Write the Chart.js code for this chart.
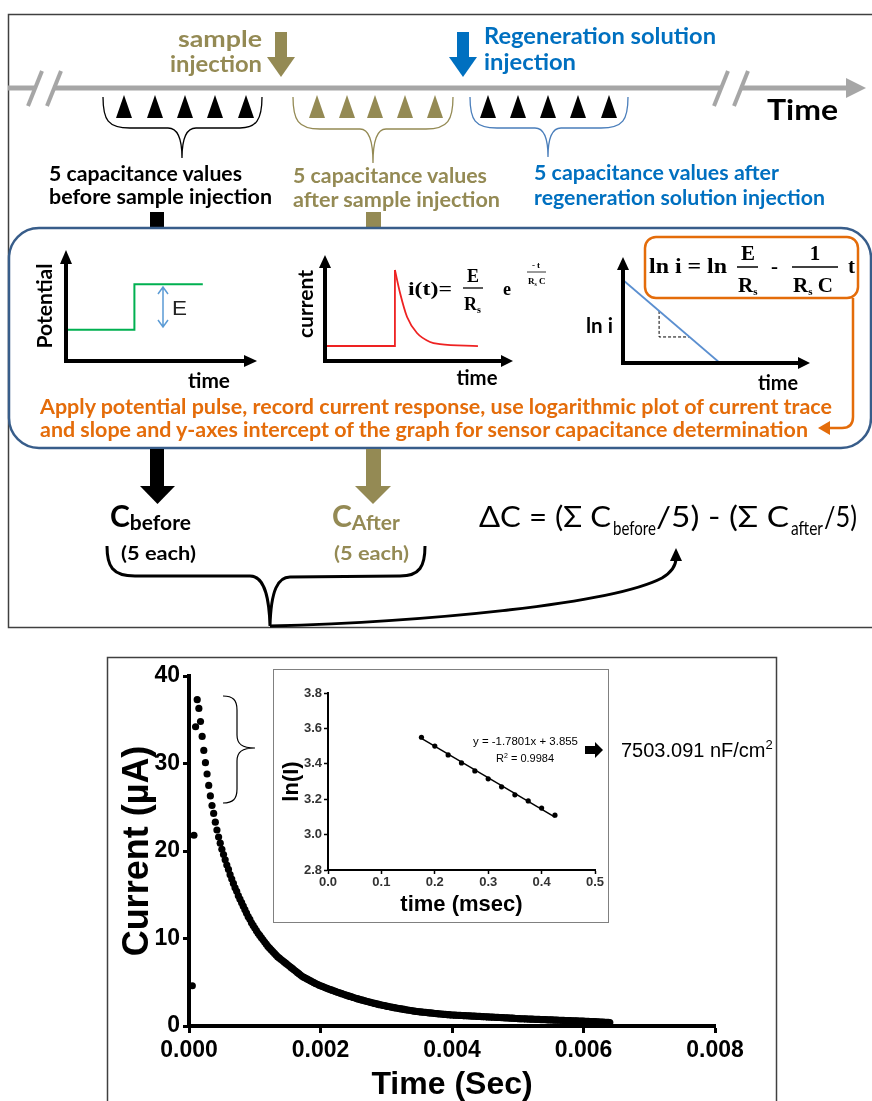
<!DOCTYPE html>
<html>
<head>
<meta charset="utf-8">
<title>Capacitance measurement scheme</title>
<script src="https://cdn.jsdelivr.net/npm/chart.js@4"></script>
<style>
  html, body { margin: 0; padding: 0; background: #fff; }
  #page { position: relative; width: 872px; height: 1101px; overflow: hidden; background: #fff; }
  canvas { position: absolute; }
  #insetBox { position: absolute; left: 273px; top: 669px; width: 334px; height: 252px; border: 1px solid #808080; background: #fff; }
  #insetBox canvas { left: 0; top: 0; }
  #art { position: absolute; left: 0; top: 0; pointer-events: none; }
</style>
</head>
<body>
<div id="page">
  <canvas id="mainChart" width="670" height="444" style="left:107px; top:657px;"></canvas>
  <div id="insetBox"><canvas id="insetChart" width="334" height="252"></canvas></div>
  <canvas id="potChart" width="190" height="108" style="left:66px; top:253px;"></canvas>
  <canvas id="curChart" width="190" height="104" style="left:325px; top:257px;"></canvas>
  <canvas id="lnChart" width="190" height="105" style="left:623px; top:258px;"></canvas>

  <svg id="art" width="872" height="1101" viewBox="0 0 872 1101">
    <!-- frames -->
    <rect x="8.5" y="14.5" width="880" height="613" fill="none" stroke="#404040" stroke-width="1.5"/>
    <rect x="107.5" y="657.5" width="669" height="470" fill="none" stroke="#404040" stroke-width="1.5"/>

    <!-- time line -->
    <g stroke="#a6a6a6" stroke-width="5">
      <line x1="8" y1="88" x2="34" y2="88"/>
      <line x1="53" y1="88" x2="722" y2="88"/>
      <line x1="740" y1="88" x2="850" y2="88"/>
    </g>
    <polygon points="846,78 866,88 846,98" fill="#a6a6a6"/>
    <g stroke="#a6a6a6" stroke-width="4">
      <line x1="28" y1="106" x2="42" y2="71"/>
      <line x1="47" y1="106" x2="61" y2="71"/>
      <line x1="714" y1="106" x2="728" y2="71"/>
      <line x1="734" y1="106" x2="748" y2="71"/>
    </g>

    <!-- injection arrows -->
    <rect x="275" y="32" width="12" height="27" fill="#948a54"/>
    <polygon points="267,57 295,57 281,77" fill="#948a54"/>
    <rect x="457" y="32" width="12" height="27" fill="#0070c0"/>
    <polygon points="449,57 477,57 463,77" fill="#0070c0"/>

    <!-- measurement markers -->
    <g fill="#000">
      <polygon points="116,118 124,95 132,118"/><polygon points="147,118 155,95 163,118"/>
      <polygon points="177,118 185,95 193,118"/><polygon points="207,118 215,95 223,118"/>
      <polygon points="238,118 246,95 254,118"/>
    </g>
    <g fill="#948a54">
      <polygon points="309,118 317,95 325,118"/><polygon points="339,118 347,95 355,118"/>
      <polygon points="367,118 375,95 383,118"/><polygon points="397,118 405,95 413,118"/>
      <polygon points="427,118 435,95 443,118"/>
    </g>
    <g fill="#000">
      <polygon points="480,118 488,95 496,118"/><polygon points="510,118 518,95 526,118"/>
      <polygon points="540,118 548,95 556,118"/><polygon points="570,118 578,95 586,118"/>
      <polygon points="601,118 609,95 617,118"/>
    </g>

    <!-- braces -->
    <g fill="none" stroke-width="1.3">
      <path stroke="#000" d="M103,97 C103,120 108,128 130,128 L168,128 C178,128 182,138 182,158 C182,138 186,128 196,128 L240,128 C256,128 262,120 262,97"/>
      <path stroke="#948a54" d="M293,97 C293,120 298,129 320,129 L360,129 C369,129 373,140 373,163 C373,140 377,129 386,129 L426,129 C448,129 453,120 453,97"/>
      <path stroke="#4a7ebb" d="M470,97 C470,120 475,128 497,128 L535,128 C544,128 548,138 548,157 C548,138 552,128 561,128 L601,128 C623,128 628,120 628,97"/>
    </g>

    <g font-family="Lato, 'Open Sans', sans-serif" font-weight="700">
      <text x="178" y="47" font-size="23" fill="#948a54" textLength="84" lengthAdjust="spacingAndGlyphs">sample</text>
      <text x="170" y="72" font-size="23" fill="#948a54" textLength="92" lengthAdjust="spacingAndGlyphs">injection</text>
      <text x="484" y="44" font-size="23" fill="#0070c0" textLength="232" lengthAdjust="spacingAndGlyphs">Regeneration solution</text>
      <text x="484" y="70" font-size="23" fill="#0070c0" textLength="92" lengthAdjust="spacingAndGlyphs">injection</text>
      <text x="767" y="120" font-size="29" fill="#000" textLength="71" lengthAdjust="spacingAndGlyphs">Time</text>

      <text x="49" y="181" font-size="20" fill="#000" textLength="193" lengthAdjust="spacingAndGlyphs">5 capacitance values</text>
      <text x="49" y="204" font-size="20" fill="#000" textLength="223" lengthAdjust="spacingAndGlyphs">before sample injection</text>
      <text x="293" y="183" font-size="20" fill="#948a54" textLength="194" lengthAdjust="spacingAndGlyphs">5 capacitance values</text>
      <text x="293" y="207" font-size="20" fill="#948a54" textLength="207" lengthAdjust="spacingAndGlyphs">after sample injection</text>
      <text x="534" y="180" font-size="20" fill="#0070c0" textLength="245" lengthAdjust="spacingAndGlyphs">5 capacitance values after</text>
      <text x="534" y="205" font-size="20" fill="#0070c0" textLength="291" lengthAdjust="spacingAndGlyphs">regeneration solution injection</text>
    </g>

    <rect x="150" y="212" width="14" height="17" fill="#000"/>
    <rect x="366" y="212" width="15" height="17" fill="#948a54"/>

    <!-- method box -->
    <rect x="9" y="228" width="862" height="220" rx="30" fill="none" stroke="#385d8a" stroke-width="2.5"/>

    <!-- mini axes -->
    <g stroke="#000" stroke-width="4" fill="none">
      <path d="M66,363 V262 M64,361 H246"/>
      <path d="M325,363 V266 M323,361 H503"/>
      <path d="M623,365 V268 M621,363 H800"/>
    </g>
    <g fill="#000">
      <polygon points="60,264 72,264 66,250"/><polygon points="244,355 244,367 257,361"/>
      <polygon points="319,268 331,268 325,255"/><polygon points="501,355 501,367 513,361"/>
      <polygon points="617,270 629,270 623,257"/><polygon points="798,357 798,369 810,363"/>
    </g>
    <g stroke="#5b9bd5" stroke-width="1.5" fill="none">
      <path d="M163,288 V326 M158,294 L163,287 L168,294 M158,320 L163,327 L168,320"/>
    </g>
    <text x="172" y="315" font-family="Arial, 'Liberation Sans', sans-serif" font-size="21" fill="#222" textLength="15" lengthAdjust="spacingAndGlyphs">E</text>

    <g font-family="Lato, 'Open Sans', sans-serif" font-weight="700" fill="#000">
      <text transform="translate(52,306) rotate(-90)" text-anchor="middle" font-size="21" textLength="85" lengthAdjust="spacingAndGlyphs">Potential</text>
      <text x="209" y="388" text-anchor="middle" font-size="20" textLength="42" lengthAdjust="spacingAndGlyphs">time</text>
      <text transform="translate(313,304) rotate(-90)" text-anchor="middle" font-size="21" textLength="68" lengthAdjust="spacingAndGlyphs">current</text>
      <text x="477" y="385" text-anchor="middle" font-size="20" textLength="41" lengthAdjust="spacingAndGlyphs">time</text>
      <text x="586" y="333" font-size="20" textLength="27" lengthAdjust="spacingAndGlyphs">ln i</text>
      <text x="778" y="390" text-anchor="middle" font-size="20" textLength="40" lengthAdjust="spacingAndGlyphs">time</text>
    </g>

    <!-- i(t) formula -->
    <g font-family="'Liberation Serif', 'Times New Roman', serif" font-weight="700" fill="#000">
      <text x="408" y="295" font-size="19" textLength="44" lengthAdjust="spacingAndGlyphs">i(t)=</text>
      <text x="473" y="282" font-size="18" text-anchor="middle">E</text>
      <text x="464" y="310" font-size="18">R<tspan font-size="10" dy="3">s</tspan></text>
      <text x="503" y="295" font-size="18">e</text>
      <text x="536" y="268" font-size="9" text-anchor="middle">- t</text>
      <text x="528" y="284" font-size="9">R<tspan font-size="6" dy="2">s</tspan><tspan dy="-2"> C</tspan></text>
    </g>
    <line x1="463" y1="288" x2="483" y2="288" stroke="#000" stroke-width="1.3"/>
    <line x1="527" y1="272" x2="546" y2="272" stroke="#000" stroke-width="0.8"/>

    <!-- ln i formula box -->
    <rect x="645" y="237" width="213" height="61" rx="11" fill="#fff" stroke="#e46c0a" stroke-width="2.5"/>
    <g font-family="'Liberation Serif', 'Times New Roman', serif" font-weight="700" fill="#000">
      <text x="649" y="273" font-size="21" textLength="78" lengthAdjust="spacingAndGlyphs">ln i = ln</text>
      <text x="748" y="260" font-size="21" text-anchor="middle">E</text>
      <text x="738" y="292" font-size="21">R<tspan font-size="11" dy="3">s</tspan></text>
      <text x="771" y="273" font-size="21">-</text>
      <text x="815" y="260" font-size="21" text-anchor="middle">1</text>
      <text x="793" y="292" font-size="21">R<tspan font-size="11" dy="3">s</tspan><tspan dy="-3"> C</tspan></text>
      <text x="848" y="273" font-size="21">t</text>
    </g>
    <line x1="737" y1="267" x2="758" y2="267" stroke="#000" stroke-width="1.5"/>
    <line x1="792" y1="267" x2="838" y2="267" stroke="#000" stroke-width="1.5"/>
    <path d="M853,298 V417 Q853,428 842,428 H829" fill="none" stroke="#e46c0a" stroke-width="2.5"/>
    <polygon points="818,428 830,421 830,435" fill="#e46c0a"/>

    <g font-family="Lato, 'Open Sans', sans-serif" font-weight="700" fill="#e46c0a" font-size="20">
      <text x="40" y="414" textLength="792" lengthAdjust="spacingAndGlyphs">Apply potential pulse, record current response, use logarithmic plot of current trace</text>
      <text x="40" y="437" textLength="768" lengthAdjust="spacingAndGlyphs">and slope and y-axes intercept of the graph for sensor capacitance determination</text>
    </g>

    <!-- result arrows -->
    <rect x="150" y="449" width="14" height="39" fill="#000"/>
    <polygon points="140,486 175,486 157.5,504" fill="#000"/>
    <rect x="366" y="449" width="15" height="39" fill="#948a54"/>
    <polygon points="355,486 391,486 373,504" fill="#948a54"/>

    <g font-family="Lato, 'Open Sans', sans-serif" font-weight="700">
      <text x="110" y="527" font-size="30" fill="#000">C<tspan font-size="21" dy="3">before</tspan></text>
      <text x="121" y="560" font-size="19" fill="#000" textLength="75" lengthAdjust="spacingAndGlyphs">(5 each)</text>
      <text x="332" y="527" font-size="30" fill="#948a54">C<tspan font-size="21" dy="3">After</tspan></text>
      <text x="334" y="560" font-size="19" fill="#948a54" textLength="75" lengthAdjust="spacingAndGlyphs">(5 each)</text>
    </g>
    <g font-family="Lato, 'Open Sans', sans-serif" font-weight="400" fill="#000">
      <text x="479" y="527" font-size="28" textLength="132" lengthAdjust="spacingAndGlyphs">ΔC = (Σ C</text>
      <text x="613" y="535" font-size="19" textLength="43" lengthAdjust="spacingAndGlyphs">before</text>
      <text x="656" y="527" font-size="28" textLength="133" lengthAdjust="spacingAndGlyphs">/5) - (Σ C</text>
      <text x="791" y="535" font-size="19" textLength="32" lengthAdjust="spacingAndGlyphs">after</text>
      <text x="824" y="527" font-size="28" textLength="33" lengthAdjust="spacingAndGlyphs">/5)</text>
    </g>

    <path d="M107,546 C107,566 112,576 135,576 L250,576 C262,576 269,590 270,626 C271,590 278,577 290,577 L400,576 C420,576 425,566 425,546" fill="none" stroke="#000" stroke-width="3"/>
    <path d="M270,626 C420,622 610,605 662,578 C672,572 676,566 676,558" fill="none" stroke="#000" stroke-width="3"/>
    <polygon points="670,561 682,561 676,548" fill="#000"/>

    <!-- chart annotations -->
    <path d="M223,696 C233,696 237,700 237,710 L237,735 C237,744 242,748 255,748 C242,748 237,752 237,761 L237,789 C237,799 233,803 223,803" fill="none" stroke="#000" stroke-width="1.2"/>
    <g font-family="Arial, 'Liberation Sans', sans-serif" fill="#000">
      <text x="473" y="745" font-size="11" textLength="105" lengthAdjust="spacingAndGlyphs">y = -1.7801x + 3.855</text>
      <text x="496" y="762" font-size="11">R<tspan font-size="7" dy="-4">2</tspan><tspan dy="4"> = 0.9984</tspan></text>
      <text x="621" y="757" font-size="20">7503.091 nF/cm<tspan font-size="13" dy="-8">2</tspan></text>
    </g>
    <path d="M585,746 L595,746 L595,742 L603,750 L595,758 L595,754 L585,754 Z" fill="#000"/>
  </svg>
</div>

<script>
// Current trace, one reading every 25 microseconds, starting at 0.05 ms
const traceStart = 0.00005;
const traceStep = 0.000025;
const currentUA = [
    // 0.050 - 0.425 ms
    4.6, 21.8, 34.2, 37.3, 36.3, 34.8, 33.1, 31.5, 30.1, 28.8, 27.5, 26.3, 25.2, 24.3, 23.3, 22.4,
    // 0.450 - 1.000 ms
    21.6, 20.9, 20.2, 19.6, 19.0, 18.4, 17.9, 17.3, 16.8, 16.3, 15.8, 15.4, 14.9, 14.5, 14.1, 13.7, 13.3, 12.9, 12.5, 12.2, 11.8, 11.5, 11.2,
    // 1.025 - 1.500 ms
    10.9, 10.6, 10.35, 10.1, 9.85, 9.6, 9.35, 9.1, 8.9, 8.7, 8.5, 8.3, 8.1, 7.9, 7.75, 7.6, 7.45, 7.3, 7.15, 7.0,
    // 1.525 - 2.000 ms
    6.85, 6.7, 6.55, 6.4, 6.25, 6.1, 5.95, 5.8, 5.65, 5.55, 5.45, 5.35, 5.25, 5.15, 5.05, 4.95, 4.86, 4.77, 4.68, 4.6,
    // 2.025 - 2.500 ms
    4.52, 4.45, 4.37, 4.30, 4.23, 4.16, 4.09, 4.02, 3.95, 3.88, 3.82, 3.75, 3.69, 3.62, 3.56, 3.50, 3.44, 3.38, 3.32, 3.26,
    // 2.525 - 3.000 ms
    3.20, 3.14, 3.09, 3.03, 2.98, 2.92, 2.87, 2.82, 2.77, 2.72, 2.67, 2.62, 2.58, 2.53, 2.49, 2.44, 2.40, 2.36, 2.32, 2.28,
    // 3.025 - 3.500 ms
    2.24, 2.20, 2.16, 2.13, 2.09, 2.06, 2.02, 1.99, 1.95, 1.92, 1.89, 1.86, 1.83, 1.80, 1.77, 1.74, 1.71, 1.68, 1.66, 1.63,
    // 3.525 - 4.000 ms
    1.61, 1.59, 1.57, 1.55, 1.53, 1.51, 1.49, 1.47, 1.45, 1.43, 1.41, 1.39, 1.37, 1.35, 1.34, 1.32, 1.30, 1.29, 1.27, 1.26,
    // 4.025 - 4.500 ms
    1.25, 1.24, 1.23, 1.22, 1.21, 1.20, 1.19, 1.18, 1.17, 1.16, 1.15, 1.14, 1.13, 1.12, 1.11, 1.10, 1.09, 1.08, 1.07, 1.06,
    // 4.525 - 5.000 ms
    1.05, 1.04, 1.03, 1.02, 1.01, 1.00, 0.99, 0.98, 0.97, 0.96, 0.95, 0.94, 0.93, 0.92, 0.91, 0.90, 0.89, 0.88, 0.86, 0.85,
    // 5.025 - 5.500 ms
    0.84, 0.83, 0.83, 0.82, 0.81, 0.80, 0.79, 0.79, 0.78, 0.77, 0.76, 0.76, 0.75, 0.74, 0.73, 0.73, 0.72, 0.71, 0.71, 0.70,
    // 5.525 - 6.000 ms
    0.69, 0.68, 0.68, 0.67, 0.66, 0.65, 0.65, 0.64, 0.63, 0.62, 0.62, 0.61, 0.60, 0.59, 0.59, 0.58, 0.57, 0.56, 0.56, 0.55,
    // 6.025 - 6.400 ms
    0.54, 0.53, 0.52, 0.51, 0.50, 0.50, 0.49, 0.48, 0.47, 0.46, 0.45, 0.44, 0.43, 0.42, 0.41, 0.40
];
const mainTimeTicks = [0, 0.002, 0.004, 0.006, 0.008];
const mainTimeLabels = ['0.000', '0.002', '0.004', '0.006', '0.008'];
const mainCurrentTicks = [0, 10, 20, 30, 40];

// Inset: ln(I) against time (msec) and the fitted line
const lnTimeMs = [0.175, 0.2, 0.225, 0.25, 0.275, 0.3, 0.325, 0.35, 0.375, 0.4, 0.425];
const lnCurrent = [3.55, 3.50, 3.45, 3.405, 3.36, 3.315, 3.27, 3.225, 3.19, 3.15, 3.11];
const fitTimeMs = [0.175, 0.425];
const fitLn = [3.544, 3.099];
const insetTimeTicks = [0, 0.1, 0.2, 0.3, 0.4, 0.5];
const insetLnTicks = [2.8, 3.0, 3.2, 3.4, 3.6, 3.8];

// Sketch curves in the method box (arbitrary units 0..1)
const potTime = [0, 0.36, 0.36, 0.72];
const potValue = [0.29, 0.29, 0.71, 0.71];
const curRiseTime = [0, 0.368, 0.368];
const curRiseValue = [0.144, 0.144, 0.875];
const curDecayTime = [0.368, 0.395, 0.432, 0.484, 0.553, 0.605, 0.805];
const curDecayValue = [0.875, 0.654, 0.423, 0.269, 0.183, 0.163, 0.144];
const lnSketchTime = [0, 0.51];
const lnSketchValue = [0.79, 0];
const slopeTime = [0.19, 0.19, 0.35];
const slopeValue = [0.496, 0.248, 0.248];

const arial = 'Arial, "Liberation Sans", sans-serif';
Chart.defaults.font.family = arial;

function points(xs, ys) {
    return xs.map((x, i) => ({ x: x, y: ys[i] }));
}

function baseOptions() {
    return {
        responsive: false,
        animation: false,
        devicePixelRatio: 1,
        plugins: { legend: { display: false }, tooltip: { enabled: false } }
    };
}

// Main current trace
const mainOpts = baseOptions();
mainOpts.layout = { padding: { top: 19, right: 62, left: 0, bottom: 0 } };
mainOpts.scales = {
    x: {
        type: 'linear', min: 0, max: 0.008,
        afterFit: s => { s.height = 75; },
        afterBuildTicks: s => { s.ticks = mainTimeTicks.map(v => ({ value: v })); },
        ticks: {
            callback: (v, i) => mainTimeLabels[i],
            font: { family: arial, weight: 'bold', size: 23 },
            color: '#000', padding: 4, autoSkip: false, maxRotation: 0
        },
        grid: { drawOnChartArea: false, tickLength: 7, tickWidth: 3, tickColor: '#000' },
        border: { color: '#000', width: 4 },
        title: { display: true, text: 'Time (Sec)', color: '#000', padding: { top: 0, bottom: 0 },
                 font: { family: arial, weight: 'bold', size: 32, lineHeight: 1 } }
    },
    y: {
        type: 'linear', min: 0, max: 40,
        afterFit: s => { s.width = 82; },
        afterBuildTicks: s => { s.ticks = mainCurrentTicks.map(v => ({ value: v })); },
        ticks: {
            font: { family: arial, weight: 'bold', size: 23 },
            color: '#000', padding: 3
        },
        grid: { drawOnChartArea: false, tickLength: 6, tickWidth: 3, tickColor: '#000' },
        border: { color: '#000', width: 4 },
        title: { display: true, text: 'Current (\u00b5A)', color: '#000', padding: { top: 13, bottom: 0 },
                 font: { family: arial, weight: 'bold', size: 36, lineHeight: 1 } }
    }
};
new Chart(document.getElementById('mainChart'), {
    type: 'scatter',
    data: {
        datasets: [{
            data: currentUA.map((y, i) => ({ x: traceStart + i * traceStep, y: y })),
            pointRadius: 3.6,
            pointBackgroundColor: '#000',
            pointBorderWidth: 0,
            clip: false
        }]
    },
    options: mainOpts
});

// Inset ln(I) plot
const insetOpts = baseOptions();
insetOpts.layout = { padding: { top: 23, right: 13, left: 0, bottom: 0 } };
insetOpts.scales = {
    x: {
        type: 'linear', min: 0, max: 0.5,
        afterFit: s => { s.height = 52; },
        afterBuildTicks: s => { s.ticks = insetTimeTicks.map(v => ({ value: v })); },
        ticks: { callback: v => v.toFixed(1), font: { family: arial, weight: 'bold', size: 13 },
                 color: '#333', padding: 1, autoSkip: false, maxRotation: 0 },
        grid: { drawOnChartArea: false, tickLength: 4, tickWidth: 1.5, tickColor: '#000' },
        border: { color: '#000', width: 2 },
        title: { display: true, text: 'time (msec)', color: '#000', padding: { top: 0, bottom: 6 },
                 font: { family: arial, weight: 'bold', size: 22, lineHeight: 1 } }
    },
    y: {
        type: 'linear', min: 2.8, max: 3.8,
        afterFit: s => { s.width = 54; },
        afterBuildTicks: s => { s.ticks = insetLnTicks.map(v => ({ value: v })); },
        ticks: { callback: v => v.toFixed(1), font: { family: arial, weight: 'bold', size: 13 },
                 color: '#333', padding: 2 },
        grid: { drawOnChartArea: false, tickLength: 4, tickWidth: 1.5, tickColor: '#000' },
        border: { color: '#000', width: 2 },
        title: { display: true, text: 'ln(I)', color: '#000', padding: { top: 7, bottom: 0 },
                 font: { family: arial, weight: 'bold', size: 22, lineHeight: 1 } }
    }
};
new Chart(document.getElementById('insetChart'), {
    type: 'scatter',
    data: {
        datasets: [
            { data: points(fitTimeMs, fitLn), showLine: true, borderColor: '#000', borderWidth: 1.5, pointRadius: 0 },
            { data: points(lnTimeMs, lnCurrent), pointRadius: 2.6, pointBackgroundColor: '#000', pointBorderWidth: 0 }
        ]
    },
    options: insetOpts
});

// Small sketch graphs inside the method box
function sketch(id, datasets) {
    const opts = baseOptions();
    opts.layout = { padding: 0 };
    opts.scales = {
        x: { type: 'linear', min: 0, max: 1, display: false },
        y: { type: 'linear', min: 0, max: 1, display: false }
    };
    new Chart(document.getElementById(id), {
        type: 'scatter',
        data: { datasets: datasets.map(d => Object.assign({ showLine: true, pointRadius: 0, clip: false }, d)) },
        options: opts
    });
}
sketch('potChart', [
    { data: points(potTime, potValue), borderColor: '#00b050', borderWidth: 2 }
]);
sketch('curChart', [
    { data: points(curRiseTime, curRiseValue), borderColor: '#ee2222', borderWidth: 1.8 },
    { data: points(curDecayTime, curDecayValue), borderColor: '#ee2222', borderWidth: 1.8, cubicInterpolationMode: 'monotone' }
]);
sketch('lnChart', [
    { data: points(lnSketchTime, lnSketchValue), borderColor: '#5b8fd0', borderWidth: 1.8 },
    { data: points(slopeTime, slopeValue), borderColor: '#000', borderWidth: 1, borderDash: [3, 2] }
]);
</script>
</body>
</html>
